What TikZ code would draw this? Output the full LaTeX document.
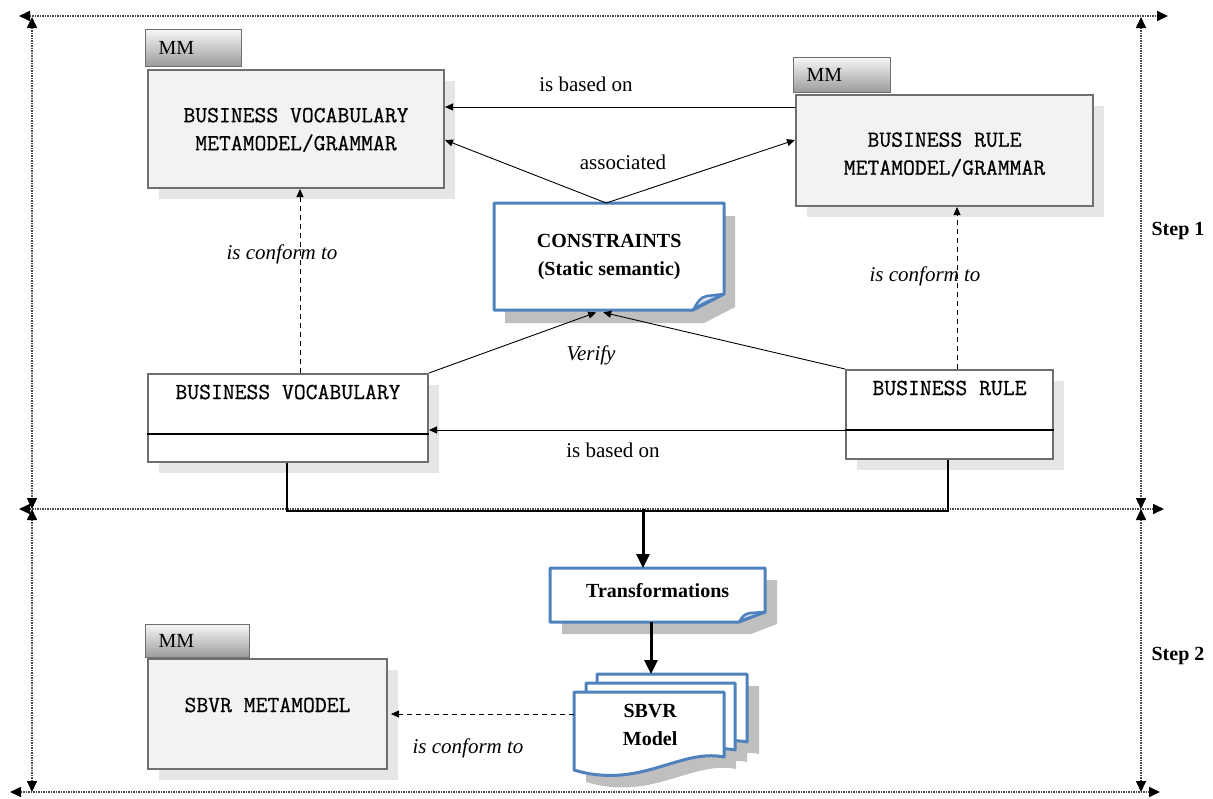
\documentclass[tikz,border=0pt]{standalone}
\usepackage{fontspec}
\setmainfont{Liberation Serif}
\newfontfamily\dgmonofam[FakeBold=0.6]{Latin Modern Mono}
\usetikzlibrary{arrows.meta,calc,shadows}
\definecolor{boxfill}{HTML}{F2F2F2}
\definecolor{boxborder}{HTML}{6F6F6F}
\definecolor{shadowlight}{HTML}{E6E6E6}
\definecolor{shadowdark}{HTML}{BFBFBF}
\definecolor{tabtop}{HTML}{F6F6F6}
\definecolor{tabbot}{HTML}{9A9A9A}
\definecolor{noteblue}{HTML}{4F81BD}
\definecolor{framegray}{HTML}{4A4A4A}
\newcommand{\dgmono}{\fontsize{23}{28}\selectfont\dgmonofam}
\newcommand{\dgserif}{\fontsize{20}{24}\selectfont\rmfamily}
\newcommand{\dgbold}{\fontsize{20}{28}\selectfont\rmfamily\bfseries}
\newcommand{\dglabel}{\fontsize{21}{24}\selectfont\rmfamily}
\newcommand{\dgital}{\fontsize{21}{24}\selectfont\rmfamily\itshape}
\begin{document}
\begin{tikzpicture}[x=1pt,y=-1pt,
  mmbox/.style={draw=boxborder, line width=2pt, fill=boxfill, inner sep=0pt, anchor=north west,
     general shadow={fill=shadowlight, shadow xshift=11pt, shadow yshift=-11pt}},
  mmtab/.style={draw=boxborder, line width=1.2pt, top color=tabtop, bottom color=tabbot,
     inner xsep=13pt, inner ysep=0pt, anchor=north west, align=left, font=\dgserif},
  classbox/.style={draw=boxborder, line width=2pt, fill=white, inner sep=0pt, anchor=north west,
     general shadow={fill=shadowlight, shadow xshift=11pt, shadow yshift=-11pt}},
  anchorbox/.style={inner sep=0pt, anchor=north west},
  boxtext/.style={font=\dgmono, align=center},
  conn/.style={draw=black, line width=0.9pt, -{Triangle[length=8pt,width=7pt]}},
  dconn/.style={conn, dash pattern=on 5pt off 4pt},
  bigarrow/.style={draw=black, line width=3pt, -{Triangle[length=14pt,width=13pt]}},
  thickline/.style={draw=black, line width=2.6pt},
  framedot/.style={draw=framegray, line width=1.6pt, dash pattern=on 1.4pt off 1.1pt,
     {Triangle[length=11pt,width=10pt,color=black]}-{Triangle[length=11pt,width=10pt,color=black]}},
  notepath/.style={draw=noteblue, line width=3pt, fill=white, line join=round},
  lbl/.style={font=\dglabel},
  ilbl/.style={font=\dgital},
  steplbl/.style={font=\dgserif\bfseries}
]
\useasboundingbox (0,0) rectangle (1213,798);

% ---------- frame ----------
\coordinate (ftl) at (19,16);   \coordinate (ftr) at (1168,16);
\coordinate (fml) at (19,509);  \coordinate (fmr) at (1164,509);
\coordinate (fbl) at (10,792);  \coordinate (fbr) at (1160,792);
\coordinate (lv1) at (32,17);   \coordinate (lv2) at (32,509);  \coordinate (lv3) at (32,792);
\coordinate (rv1) at (1141,17); \coordinate (rv2) at (1141,509);\coordinate (rv3) at (1141,792);
\draw[framedot] (ftl) -- (ftr);
\draw[framedot] (fml) -- (fmr);
\draw[framedot] (fbl) -- (fbr);
\draw[framedot] (lv1) -- (lv2);
\draw[framedot] (lv2) -- (lv3);
\draw[framedot] (rv1) -- (rv2);
\draw[framedot] (rv2) -- (rv3);

% ---------- metamodel boxes ----------
\node[mmtab, minimum width=96, minimum height=37, text width=70] (bvtab) at (145,29) {MM};
\node[mmbox, minimum width=296, minimum height=118] (bvmm) at (147,69) {};
\node[boxtext] (bvmmtxt) at ($(bvmm.center)+(0,1)$) {BUSINESS VOCABULARY\\METAMODEL/GRAMMAR};

\node[mmtab, minimum width=97, minimum height=35, text width=71] (brtab) at (793,57) {MM};
\node[mmbox, minimum width=297, minimum height=111] (brmm) at (795,94) {};
\node[boxtext] (brmmtxt) at ($(brmm.center)+(0,4)$) {BUSINESS RULE\\METAMODEL/GRAMMAR};

\node[mmtab, minimum width=104, minimum height=33, text width=78] (sbtab) at (145,624) {MM};
\node[mmbox, minimum width=239, minimum height=110] (sbmm) at (147,658) {};
\node[boxtext] (sbmmtxt) at ($(sbmm.center)+(0,-9)$) {SBVR METAMODEL};

% ---------- class boxes ----------
\node[classbox, minimum width=280, minimum height=88] (bv) at (147,373) {};
\draw[black, line width=2pt] ($(bv.north west)+(0,61)$) -- ($(bv.north east)+(0,61)$);
\node[boxtext] (bvtxt) at ($(bv.north)+(0,19)$) {BUSINESS VOCABULARY};

\node[classbox, minimum width=207, minimum height=89] (br) at (845,369) {};
\draw[black, line width=2pt] ($(br.north west)+(0,61)$) -- ($(br.north east)+(0,61)$);
\node[boxtext] (brtxt) at ($(br.north)+(0,19)$) {BUSINESS RULE};

% ---------- constraints note ----------
\fill[shadowdark, shift={(11,13)}] (494,203) -- (724,203) -- (724,294) -- (693,310) -- (494,310) -- cycle;
\path[notepath] (494,203) -- (724,203) -- (724,294) -- (693,310) -- (494,310) -- cycle;
\draw[noteblue, line width=2.5pt, line join=round, fill=noteblue!25] (693,310) .. controls (698,302) and (700,297) .. (707,296) -- (724,294) .. controls (712,300) and (702,303) .. (693,310);
\node[anchorbox, minimum width=230, minimum height=107] (cons) at (494,203) {};
\node[font=\dgbold, align=center] (constxt) at (cons.center) {CONSTRAINTS\\(Static semantic)};

% ---------- transformations ----------
\fill[shadowdark, shift={(12,12)}] (550,568) -- (765,568) -- (765,612) -- (739,622) -- (550,622) -- cycle;
\path[notepath] (550,568) -- (765,568) -- (765,612) -- (739,622) -- (550,622) -- cycle;
\draw[noteblue, line width=2.5pt, line join=round, fill=noteblue!25] (739,622) .. controls (742,617) and (744,614) .. (750,613) -- (765,612) .. controls (755,616) and (746,618) .. (739,622);
\node[anchorbox, minimum width=215, minimum height=54] (trans) at (550,568) {};
\node[font=\dgbold] (transtxt) at ($(trans.center)+(0,-5)$) {Transformations};

% ---------- SBVR model (document stack) ----------
\begin{scope}[shift={(12,12)}]
\fill[shadowdark] (597,674) -- (747,674) -- (747,742) .. controls (710,734) and (660,772) .. (597,752) -- cycle;
\fill[shadowdark] (586,683) -- (735,683) -- (735,750) .. controls (700,742) and (650,780) .. (586,760) -- cycle;
\fill[shadowdark] (574,692) -- (724,692) -- (724,757) .. controls (680,748) and (640,790) .. (574,770) -- cycle;
\end{scope}
\path[notepath] (597,674) -- (747,674) -- (747,742) .. controls (710,734) and (660,772) .. (597,752) -- cycle;
\path[notepath] (586,683) -- (735,683) -- (735,750) .. controls (700,742) and (650,780) .. (586,760) -- cycle;
\path[notepath] (574,692) -- (724,692) -- (724,757) .. controls (680,748) and (640,790) .. (574,770) -- cycle;
\node[anchorbox, minimum width=150, minimum height=76] (sbback) at (597,674) {};
\node[anchorbox, minimum width=150, minimum height=78] (sbm) at (574,692) {};
\node[font=\dgbold, align=center] (sbmtxt) at ($(sbm.center)+(1,-6)$) {SBVR\\Model};

% ---------- connectors ----------
\draw[conn] ($(brmm.north west)+(0,13)$) -- ($(bvmm.north east)+(0,38)$);
\node[lbl] (lbased1) at (586,84) {is based on};

\draw[conn] ($(cons.north)+(-3,0)$) -- ($(bvmm.north east)+(0,71)$);
\draw[conn] ($(cons.north)+(-3,0)$) -- ($(brmm.north west)+(0,46)$);
\node[lbl] (lassoc) at (623,162) {associated};

\draw[dconn] ($(bv.north west)+(153,0)$) -- ($(bvmm.south west)+(153,0)$);
\node[ilbl] (lconf1) at (282,254) {is conform to};

\draw[dconn] ($(br.north west)+(112,0)$) -- ($(brmm.south west)+(162,0)$);
\node[ilbl] (lconf2) at (925,276) {is conform to};

\draw[conn] (bv.north east) -- ($(cons.south)+(-13,2)$);
\draw[conn] (br.north west) -- ($(cons.south)+(-6,2)$);
\node[ilbl] (lverify) at (591,355) {Verify};

\draw[conn] ($(br.north west)+(0,61)$) -- ($(bv.north east)+(0,57)$);
\node[lbl] (lbased2) at (613,450) {is based on};

\draw[thickline] ($(bv.south west)+(140,0)$) -- ++(0,48) -| ($(br.south west)+(103,0)$);
\coordinate (junction) at (643,509);
\draw[bigarrow] (junction) -- (junction |- trans.north);
\draw[bigarrow] ($(trans.south west)+(101,0)$) -- ($(sbback.north west)+(54,0)$);

\draw[dconn] ($(sbm.north west)+(0,22)$) -- ($(sbmm.north east)+(3,56)$);
\node[ilbl] (lconf3) at (468,748) {is conform to};

% ---------- step labels ----------
\node[steplbl] (step1) at (1178,231) {Step 1};
\node[steplbl] (step2) at (1178,656) {Step 2};
\end{tikzpicture}
\end{document}
